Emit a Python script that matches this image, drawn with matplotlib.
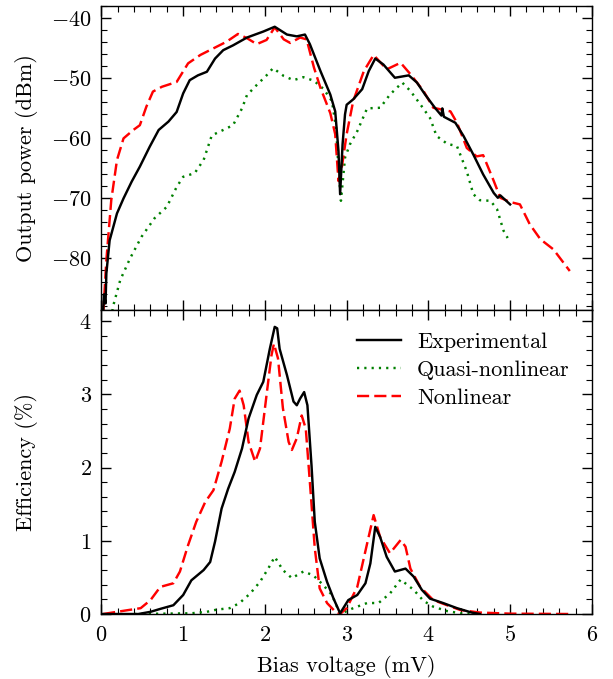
import matplotlib
matplotlib.use("Agg")
import matplotlib.pyplot as plt
from matplotlib.ticker import MultipleLocator, FuncFormatter

plt.rcParams['font.family'] = ['cmr10', 'DejaVu Serif']
plt.rcParams['mathtext.fontset'] = 'cm'
plt.rcParams['font.size'] = 16

# ---------------- Top panel: output power (dBm) ----------------
exp_p_x = [0.01, 0.03, 0.05, 0.06, 0.10, 0.19, 0.27, 0.37, 0.47, 0.59, 0.70, 0.82, 0.92, 1.00,
           1.08, 1.18, 1.29, 1.39, 1.49, 1.61, 1.78, 1.98, 2.12, 2.27, 2.39, 2.49, 2.55, 2.68,
           2.80, 2.86, 2.90, 2.92, 2.95, 2.98, 3.00, 3.08, 3.19, 3.27, 3.35, 3.45, 3.59, 3.76,
           3.86, 3.96, 4.08, 4.16, 4.17, 4.19, 4.33, 4.43, 4.55, 4.67, 4.80, 4.85, 4.88, 5.00]
exp_p_y = [-92.0, -86.0, -87.5, -82.5, -77.0, -72.5, -70.0, -67.2, -64.7, -61.4, -58.6, -57.2,
           -55.6, -52.5, -50.3, -49.5, -48.9, -46.7, -45.3, -44.5, -43.2, -42.2, -41.4, -42.7,
           -43.0, -42.7, -44.3, -48.8, -52.7, -55.5, -62.1, -69.3, -61.0, -56.0, -54.4, -53.5,
           -51.8, -48.8, -46.7, -47.7, -49.9, -49.5, -50.7, -52.7, -54.9, -56.2, -55.0, -56.4,
           -57.4, -59.6, -62.7, -66.0, -69.1, -69.9, -69.5, -71.0]

qn_p_x = [0.12, 0.14, 0.23, 0.35, 0.49, 0.65, 0.80, 0.92, 1.00, 1.14, 1.25, 1.35, 1.49, 1.61,
          1.72, 1.78, 1.90, 2.02, 2.10, 2.23, 2.35, 2.47, 2.60, 2.72, 2.82, 2.87, 2.90, 2.93,
          2.98, 3.04, 3.13, 3.25, 3.41, 3.53, 3.68, 3.78, 3.90, 4.02, 4.10, 4.23, 4.35, 4.47,
          4.55, 4.63, 4.76, 4.84, 4.92, 4.97]
qn_p_y = [-90.0, -88.1, -83.6, -80.0, -76.4, -73.3, -71.4, -68.1, -66.4, -65.8, -63.6, -59.5,
          -58.6, -57.8, -55.0, -52.8, -51.1, -49.5, -48.3, -49.6, -50.3, -49.8, -50.4, -51.8,
          -53.8, -58.2, -64.9, -70.4, -63.2, -61.0, -58.8, -55.0, -54.9, -52.7, -50.7, -52.1,
          -54.3, -56.6, -59.6, -60.9, -61.3, -65.5, -69.3, -70.3, -70.4, -71.8, -75.4, -76.6]

nl_p_x = [0.01, 0.06, 0.12, 0.19, 0.27, 0.39, 0.47, 0.55, 0.63, 0.74, 0.92, 1.06, 1.21, 1.37,
          1.53, 1.67, 1.78, 1.90, 2.02, 2.12, 2.23, 2.31, 2.43, 2.51, 2.60, 2.68, 2.80, 2.86,
          2.90, 2.94, 3.00, 3.08, 3.21, 3.33, 3.49, 3.66, 3.78, 3.94, 4.06, 4.27, 4.35, 4.47,
          4.59, 4.67, 4.80, 4.88, 5.00, 5.12, 5.24, 5.37, 5.53, 5.73]
nl_p_y = [-92.0, -80.3, -70.3, -63.6, -60.0, -58.6, -57.8, -54.7, -52.2, -51.4, -50.6, -47.5,
          -46.1, -45.0, -43.9, -42.6, -43.3, -44.3, -43.6, -41.5, -43.5, -44.1, -43.2, -43.5,
          -48.2, -51.6, -55.8, -59.3, -67.1, -64.9, -59.3, -53.8, -48.8, -46.1, -48.5, -47.4,
          -49.3, -52.1, -54.9, -55.5, -57.4, -61.6, -63.0, -62.8, -67.1, -69.9, -70.6, -71.0,
          -74.3, -76.8, -78.5, -82.1]

# ---------------- Bottom panel: efficiency (%) ----------------
exp_e_x = [0.00, 0.45, 0.60, 0.72, 0.88, 1.00, 1.10, 1.25, 1.33, 1.39, 1.47, 1.55, 1.63, 1.72,
           1.80, 1.90, 1.98, 2.06, 2.12, 2.15, 2.18, 2.27, 2.35, 2.39, 2.43, 2.48, 2.52, 2.57,
           2.61, 2.67, 2.76, 2.84, 2.92, 3.02, 3.13, 3.23, 3.29, 3.35, 3.41, 3.49, 3.59, 3.72,
           3.82, 3.92, 4.02, 4.18, 4.35, 4.53, 4.63]
exp_e_y = [0.00, 0.00, 0.03, 0.07, 0.12, 0.26, 0.46, 0.60, 0.71, 0.99, 1.44, 1.71, 1.94, 2.26,
           2.67, 2.99, 3.17, 3.62, 3.92, 3.90, 3.62, 3.26, 2.90, 2.85, 2.94, 3.03, 2.85, 2.03,
           1.26, 0.76, 0.44, 0.21, 0.01, 0.19, 0.26, 0.42, 0.69, 1.19, 1.05, 0.78, 0.58, 0.62,
           0.51, 0.33, 0.21, 0.15, 0.08, 0.02, 0.00]

qn_e_x = [0.40, 1.10, 1.29, 1.41, 1.57, 1.69, 1.82, 1.94, 2.04, 2.12, 2.22, 2.33, 2.47, 2.59,
          2.71, 2.82, 2.92, 3.08, 3.25, 3.39, 3.53, 3.66, 3.82, 3.94, 4.06, 4.23, 4.39, 4.60]
qn_e_y = [0.00, 0.01, 0.03, 0.06, 0.08, 0.15, 0.28, 0.44, 0.62, 0.78, 0.60, 0.49, 0.58, 0.53,
          0.40, 0.26, 0.00, 0.08, 0.15, 0.15, 0.28, 0.47, 0.33, 0.18, 0.10, 0.04, 0.01, 0.00]

nl_e_x = [0.02, 0.19, 0.48, 0.60, 0.72, 0.88, 0.96, 1.06, 1.16, 1.27, 1.37, 1.47, 1.57, 1.63,
          1.69, 1.74, 1.80, 1.88, 1.94, 2.02, 2.08, 2.11, 2.16, 2.22, 2.29, 2.33, 2.39, 2.45,
          2.50, 2.55, 2.61, 2.67, 2.76, 2.88, 2.92, 3.00, 3.13, 3.25, 3.33, 3.41, 3.53, 3.66,
          3.72, 3.78, 3.90, 4.06, 4.23, 4.39, 4.63, 5.00, 5.73]
nl_e_y = [0.00, 0.03, 0.08, 0.19, 0.37, 0.42, 0.58, 0.94, 1.26, 1.53, 1.69, 2.08, 2.53, 2.94,
          3.05, 2.85, 2.35, 2.08, 2.26, 2.99, 3.53, 3.69, 3.49, 2.81, 2.35, 2.24, 2.40, 2.71,
          2.53, 1.80, 0.90, 0.35, 0.15, 0.01, 0.00, 0.08, 0.37, 0.96, 1.35, 1.05, 0.83, 1.01,
          0.92, 0.62, 0.37, 0.19, 0.12, 0.055, 0.02, 0.005, 0.00]

labels = ["Experimental", "Quasi-nonlinear", "Nonlinear"]

fig = plt.figure(figsize=(6.13, 6.79), dpi=100)
ax1 = fig.add_axes([0.1655, 0.5434, 0.800, 0.4477])
ax2 = fig.add_axes([0.1655, 0.0957, 0.800, 0.4477])

math_fmt = FuncFormatter(lambda v, p: "$%g$" % v)

lw = 1.75
for ax, data in ((ax1, (exp_p_x, exp_p_y, qn_p_x, qn_p_y, nl_p_x, nl_p_y)),
                 (ax2, (exp_e_x, exp_e_y, qn_e_x, qn_e_y, nl_e_x, nl_e_y))):
    ex, ey, qx, qy, nx, ny = data
    ax.plot(ex, ey, color='black', lw=lw, label=labels[0], zorder=3)
    ax.plot(qx, qy, color='#008000', lw=lw, dashes=(0.9, 2.1), label=labels[1], zorder=2)
    ax.plot(nx, ny, color='#ff0000', lw=lw, dashes=(5.0, 2.1), label=labels[2], zorder=2.5)
    ax.set_xlim(0, 6)
    ax.xaxis.set_major_locator(MultipleLocator(1))
    ax.xaxis.set_minor_locator(MultipleLocator(0.2))
    ax.xaxis.set_major_formatter(math_fmt)
    ax.yaxis.set_major_formatter(math_fmt)
    ax.tick_params(which='both', direction='in', top=True, right=True)
    ax.tick_params(which='major', length=7.5, width=1.0)
    ax.tick_params(axis='x', which='major', pad=8)
    ax.tick_params(axis='y', which='major', pad=7)
    ax.tick_params(which='minor', length=4, width=0.8)
    for s in ax.spines.values():
        s.set_linewidth(1.0)

ax1.set_ylim(-88.6, -37.95)
ax1.yaxis.set_major_locator(MultipleLocator(10))
ax1.yaxis.set_minor_locator(MultipleLocator(2))
ax1.tick_params(labelbottom=False)
ax1.set_ylabel("Output power (dBm)")

ax2.set_ylim(0, 4.15)
ax2.yaxis.set_major_locator(MultipleLocator(1))
ax2.yaxis.set_minor_locator(MultipleLocator(0.2))
ax2.set_ylabel("Efficiency (%)")
ax2.set_xlabel("Bias voltage (mV)", labelpad=7)
ax2.legend(loc='upper right', frameon=False, handlelength=2.0, handletextpad=0.7,
           labelspacing=0.38, borderaxespad=0.6)

for ax in (ax1, ax2):
    ax.yaxis.set_label_coords(-0.130, 0.5)

fig.savefig("out.png", dpi=100)
